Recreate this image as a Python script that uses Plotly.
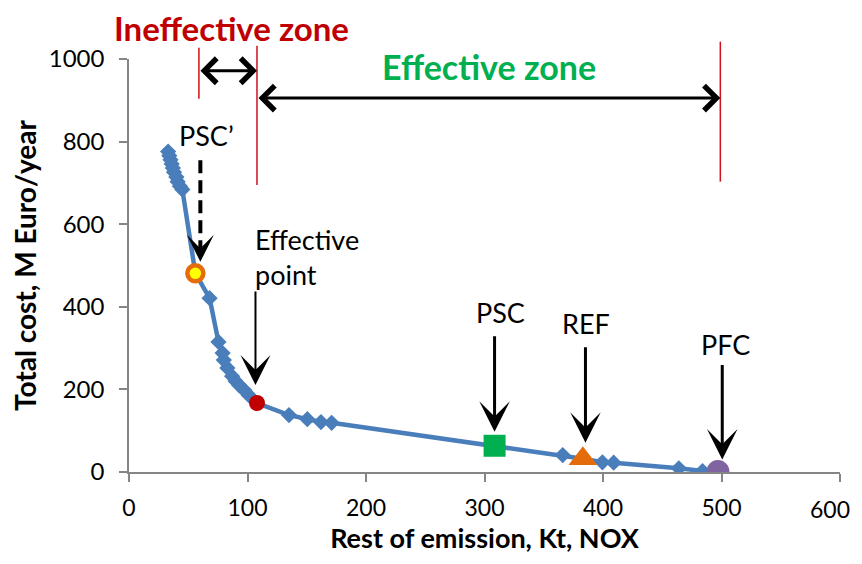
import plotly.graph_objects as go

# ---- data -------------------------------------------------------------
# regular points of the cost curve (diamonds)
curve_x = [33, 34, 35, 36, 37, 38, 40, 41, 43, 45, 68, 75.5, 79, 80, 83, 87, 90,
           93, 97, 101, 135, 150.5, 162, 171, 366, 399.5, 409, 464, 484]
curve_y = [776, 766, 756, 746, 736, 726, 714, 703, 692, 684, 421, 315, 288, 271,
           252, 232, 220, 210, 199, 186, 138, 128, 121, 119, 41, 23.5, 22.5, 9, 2.4]

# highlighted scenarios
special_names = ["PSC\u2019", "Effective point", "PSC", "REF", "PFC"]
special_x = [56, 108, 308.5, 383, 497]
special_y = [481, 167, 63.5, 32, 1]

# zone boundaries (Kt NOx)
zone_bounds = [59, 108, 499]

x_ticks = [0, 100, 200, 300, 400, 500, 600]
x_tick_labels = ["0", "100", "200", "300", "400", "500", "600"]
y_ticks = [0, 200, 400, 600, 800, 1000]

# ---- figure -----------------------------------------------------------
FONT = "Lato"
BLUE = "#4A7EBB"

all_pts = sorted(zip(curve_x + special_x, curve_y + special_y))
line_x = [p[0] for p in all_pts]
line_y = [p[1] for p in all_pts]

fig = go.Figure()
fig.add_trace(go.Scatter(x=line_x, y=line_y, mode="lines",
                         line=dict(color=BLUE, width=4.5), hoverinfo="skip",
                         showlegend=False))
fig.add_trace(go.Scatter(x=curve_x, y=curve_y, mode="markers",
                         marker=dict(symbol="diamond", size=12.5, color=BLUE,
                                     line=dict(width=0)),
                         showlegend=False))

styles = [
    dict(symbol="circle", size=16, color="#FFFF00", line=dict(color="#E46C0A", width=4.5)),
    dict(symbol="circle", size=16, color="#C00000", line=dict(width=0)),
    dict(symbol="square", size=22, color="#00B050", line=dict(width=0)),
    dict(symbol="triangle-up", size=25, color="#E46C0A", line=dict(width=0)),
    dict(symbol="circle", size=23, color="#8064A2", line=dict(width=0)),
]
for name, x, y, st in zip(special_names, special_x, special_y, styles):
    fig.add_trace(go.Scatter(x=[x], y=[y], mode="markers", name=name,
                             marker=st, showlegend=False))

annotations = []
shapes = []

# label text offsets (pixels) relative to each highlighted point
label_cfg = {
    "PSC\u2019": dict(text="PSC\u2019", xshift=11, yshift=138, xanchor="center"),
    "Effective point": dict(text="Effective<br>point", xshift=-4, yshift=146, xanchor="left"),
    "PSC": dict(text="PSC", xshift=6, yshift=133, xanchor="center"),
    "REF": dict(text="REF", xshift=3, yshift=135, xanchor="center"),
    "PFC": dict(text="PFC", xshift=8, yshift=127, xanchor="center"),
}
# arrow geometry: (x shift, tail height above point, tip standoff, line width, head size)
arrow_cfg = {
    "Effective point": (-1.5, 113, 18, 2, 2.5),
    "PSC": (0, 111, 14, 3, 1.7),
    "REF": (2.6, 113, 16, 3, 1.7),
    "PFC": (4.3, 108, 12, 3, 1.7),
}
for name, x, y in zip(special_names, special_x, special_y):
    lc = label_cfg[name]
    annotations.append(dict(x=x, y=y, xref="x", yref="y", text=lc["text"],
                            showarrow=False, xshift=lc["xshift"], yshift=lc["yshift"],
                            xanchor=lc["xanchor"], yanchor="middle", align="left",
                            font=dict(family=FONT, size=27, color="black")))
    if name in arrow_cfg:
        dx, tail, stand, w, hs = arrow_cfg[name]
        annotations.append(dict(x=x, y=y, xref="x", yref="y", text="",
                                showarrow=True, ax=0, ay=-tail, xshift=dx,
                                standoff=stand, arrowhead=3, arrowsize=hs,
                                arrowwidth=w, arrowcolor="black"))

# dashed arrow for PSC'
px_, py_ = special_x[0], special_y[0]
shapes.append(dict(type="line", xref="x", yref="y", xsizemode="pixel", ysizemode="pixel",
                   xanchor=px_, yanchor=py_, x0=5, x1=5, y0=113, y1=24,
                   line=dict(color="black", width=4, dash="13px,7px")))
annotations.append(dict(x=px_, y=py_, xref="x", yref="y", text="", showarrow=True,
                        ax=0, ay=-28, xshift=5, standoff=11.5, arrowhead=3,
                        arrowsize=1.5, arrowwidth=3, arrowcolor="black"))

# zone boundaries (red lines)
zone_line_y = [(0.904, 1.027), (0.695, 1.032), (0.703, 1.042)]
for zx, (y0, y1) in zip(zone_bounds, zone_line_y):
    shapes.append(dict(type="line", xref="x", yref="paper", x0=zx, x1=zx, y0=y0, y1=y1,
                       line=dict(color="#D0101A", width=1.5)))

# double arrows between boundaries
for (xa, xb, yp) in [(zone_bounds[0], zone_bounds[1], 0.9716),
                     (zone_bounds[1], zone_bounds[2], 0.9055)]:
    annotations.append(dict(x=xb, y=yp, xref="x", yref="paper", ax=xa, ay=0,
                            axref="x", ayref="pixel", text="", showarrow=True,
                            arrowside="end+start", arrowhead=4, startarrowhead=4,
                            arrowsize=1.6, startarrowsize=1.6, arrowwidth=3,
                            arrowcolor="black", standoff=0, startstandoff=0))

# zone titles
annotations.append(dict(x=(zone_bounds[0] + zone_bounds[1]) / 2, y=1.074, xref="x",
                        yref="paper", xshift=4, yanchor="middle", text="<b>Ineffective zone</b>",
                        showarrow=False, font=dict(family=FONT, size=33, color="#C00000")))
annotations.append(dict(x=(zone_bounds[1] + zone_bounds[2]) / 2, y=0.983, xref="x",
                        yref="paper", yanchor="middle", text="<b>Effective zone</b>",
                        showarrow=False, font=dict(family=FONT, size=34, color="#00B050")))

# last x tick label is placed as an annotation so it stays inside the page edge
annotations.append(dict(x=x_ticks[-1], y=0, xref="x", yref="paper", xanchor="right",
                        yanchor="middle", xshift=12, yshift=-36.5, showarrow=False,
                        text=x_tick_labels[-1],
                        font=dict(family=FONT, size=23, color="black")))

axis_common = dict(showline=True, linecolor="#868686", linewidth=1.5, ticks="outside",
                   ticklen=8, tickcolor="#868686", tickwidth=1.5, showgrid=False,
                   zeroline=False, automargin=False)

# the page body adds an 8px border; the figure is sized to fit inside the window
fig.update_layout(
    width=846, height=548,
    margin=dict(l=121.3, r=14.3, t=51.3, b=84.3),
    plot_bgcolor="white", paper_bgcolor="white",
    xaxis=dict(range=[0, 600], tickvals=x_ticks,
               ticktext=x_tick_labels[:-1] + [""], ticklabelstandoff=7,
               tickfont=dict(family=FONT, size=23, color="black"),
               title=dict(text="<b>Rest of emission, Kt, NOX</b>", standoff=9,
                          font=dict(family=FONT, size=27, color="black")),
               **axis_common),
    yaxis=dict(range=[0, 1000], tickvals=y_ticks, ticklabelstandoff=10,
               tickfont=dict(family=FONT, size=24, color="black"),
               title=dict(text="<b>Total cost, M Euro/year</b>", standoff=9,
                          font=dict(family=FONT, size=28, color="black")),
               **axis_common),
    annotations=annotations,
    shapes=shapes,
)

fig.write_html("out.html")
